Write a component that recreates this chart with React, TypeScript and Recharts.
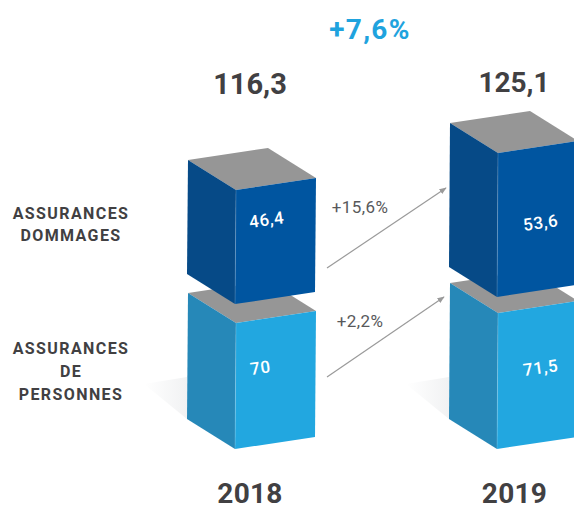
import React from "react";
import { BarChart, Bar, XAxis, YAxis, LabelList } from "recharts";

const years = ["2018", "2019"];
const personnes = [70, 71.5];
const dommages = [46.4, 53.6];
const dommagesFloor = [24.2, 25.6];
const totals = ["116,3", "125,1"];
const growthTotal = "+7,6%";
const growthDommages = "+15,6%";
const growthPersonnes = "+2,2%";
const labelDommages = ["ASSURANCES", "DOMMAGES"];
const labelPersonnes = ["ASSURANCES", "DE", "PERSONNES"];

const rows = years.map((year, i) => ({
  year,
  personnes: personnes[i],
  dommages: [dommagesFloor[i], dommages[i]],
}));

const FONT = "Roboto, sans-serif";
const INK = "#414042";
const GREY = "#9a9a9a";
const TOP = "#969696";
const LIGHT = { front: "#22a7e0", side: "#2688b8" };
const DARK = { front: "#0055a0", side: "#064a87" };

const DEPTH_X = 48;
const DEPTH_Y = 30;
const RISE = 12;

const pts = (a: number[][]) => a.map((p) => p.join(",")).join(" ");

function Box({ x, y, width, height, colors, shadow }: any) {
  const bottom = y + height;
  const fx = x + DEPTH_X;
  const rx = x + width;
  return (
    <g>
      {shadow && (
        <polygon
          points={pts([[x - 1, bottom - 72], [x - 44, bottom - 65], [x - 1, bottom - 30]])}
          fill="url(#floorShade)"
        />
      )}
      <polygon
        points={pts([[x, y - DEPTH_Y], [x + width - DEPTH_X, y - DEPTH_Y - RISE], [rx, y - RISE], [fx, y]])}
        fill={TOP}
      />
      <polygon
        points={pts([[x, y - DEPTH_Y], [fx, y], [fx - 1, bottom], [x - 1, bottom - DEPTH_Y]])}
        fill={colors.side}
      />
      <polygon
        points={pts([[fx, y], [rx, y - RISE], [rx - 1, bottom - RISE], [fx - 1, bottom]])}
        fill={colors.front}
      />
      <line x1={fx} y1={y} x2={fx - 1} y2={bottom} stroke="#ffffff" strokeOpacity={0.25} strokeWidth={0.7} />
    </g>
  );
}

const valueText = (v: number) => String(v).replace(".", ",");

function FaceLabel({ x, y, index, values, dx, dy }: any) {
  const px = x + dx[index];
  const py = y + dy[index];
  return (
    <text
      x={px}
      y={py}
      transform={`rotate(-8 ${px} ${py})`}
      fill="#ffffff"
      fontFamily={FONT}
      fontSize={17}
      fontWeight={500}
      letterSpacing={0.6}
    >
      {valueText(values[index])}
    </text>
  );
}

function TotalLabel({ x, width, index }: any) {
  return (
    <text
      x={x + width / 2 - (index === 0 ? 2 : 0)}
      y={index === 0 ? 94 : 92}
      textAnchor="middle"
      fill={INK}
      fontFamily={FONT}
      fontSize={index === 0 ? 29 : 28}
      fontWeight={700}
    >
      {totals[index]}
    </text>
  );
}

function YearTick({ x, payload, index }: any) {
  return (
    <text
      x={x + (index === 0 ? -2 : 0.5)}
      y={503}
      textAnchor="middle"
      fill={INK}
      fontFamily={FONT}
      fontSize={28}
      fontWeight={700}
      letterSpacing={0.3}
    >
      {payload.value}
    </text>
  );
}

function SideLabel({ lines, y }: { lines: string[]; y: number }) {
  return (
    <text fill={INK} fontFamily={FONT} fontSize={16} fontWeight={700} letterSpacing={1.4} textAnchor="middle">
      {lines.map((l, i) => (
        <tspan key={i} x={71} y={y + i * (lines.length === 3 ? 23 : 22)}>
          {l}
        </tspan>
      ))}
    </text>
  );
}

export default function App() {
  return (
    <div style={{ position: "absolute", left: 0, top: 0, width: 574, height: 509, overflow: "hidden", background: "#fff" }}>
      <BarChart width={574} height={509} data={rows} margin={{ top: 0, right: -71, bottom: 0, left: 121 }}>
        <defs>
          <linearGradient id="floorShade" x1="1" y1="0" x2="0" y2="0">
            <stop offset="0" stopColor="#f1f2f3" />
            <stop offset="1" stopColor="#ffffff" />
          </linearGradient>
          <marker id="arrowHead" viewBox="0 0 10 10" refX="9" refY="5" markerWidth="6" markerHeight="6" orient="auto">
            <path d="M0,1 L10,5 L0,9 Z" fill={GREY} />
          </marker>
        </defs>
        <XAxis xAxisId="p" dataKey="year" axisLine={false} tickLine={false} height={60} tick={<YearTick />} />
        <XAxis xAxisId="d" dataKey="year" hide />
        <YAxis yAxisId="p" hide domain={[51.1, 118.45]} allowDataOverflow />
        <YAxis yAxisId="d" hide domain={[-4, 83.37]} allowDataOverflow />
        <Bar
          dataKey="personnes"
          xAxisId="p"
          yAxisId="p"
          barSize={128}
          isAnimationActive={false}
          shape={(p: any) => <Box {...p} colors={LIGHT} shadow />}
        >
          <LabelList
            dataKey="personnes"
            content={(p: any) => <FaceLabel {...p} values={personnes} dx={[63, 74]} dy={[52, 63]} />}
          />
        </Bar>
        <Bar
          dataKey="dommages"
          xAxisId="d"
          yAxisId="d"
          barSize={128}
          isAnimationActive={false}
          shape={(p: any) => <Box {...p} colors={DARK} />}
        >
          <LabelList
            dataKey="year"
            content={(p: any) => <FaceLabel {...p} values={dommages} dx={[62, 74]} dy={[38, 78]} />}
          />
          <LabelList dataKey="year" content={(p: any) => <TotalLabel {...p} />} />
        </Bar>
        <line x1={327} y1={268} x2={446} y2={188} stroke={GREY} strokeWidth={1.2} markerEnd="url(#arrowHead)" />
        <line x1={327} y1={377} x2={444} y2={297} stroke={GREY} strokeWidth={1.2} markerEnd="url(#arrowHead)" />
        <text x={360} y={213} textAnchor="middle" fill="#58595b" fontFamily={FONT} fontSize={17} letterSpacing={0.4}>{growthDommages}</text>
        <text x={360} y={327} textAnchor="middle" fill="#58595b" fontFamily={FONT} fontSize={17} letterSpacing={0.4}>{growthPersonnes}</text>
        <text x={370} y={39} textAnchor="middle" fill="#1fa3de" fontFamily={FONT} fontSize={28} fontWeight={700} letterSpacing={1.3}>{growthTotal}</text>
        <SideLabel lines={labelDommages} y={219} />
        <SideLabel lines={labelPersonnes} y={354} />
      </BarChart>
    </div>
  );
}
